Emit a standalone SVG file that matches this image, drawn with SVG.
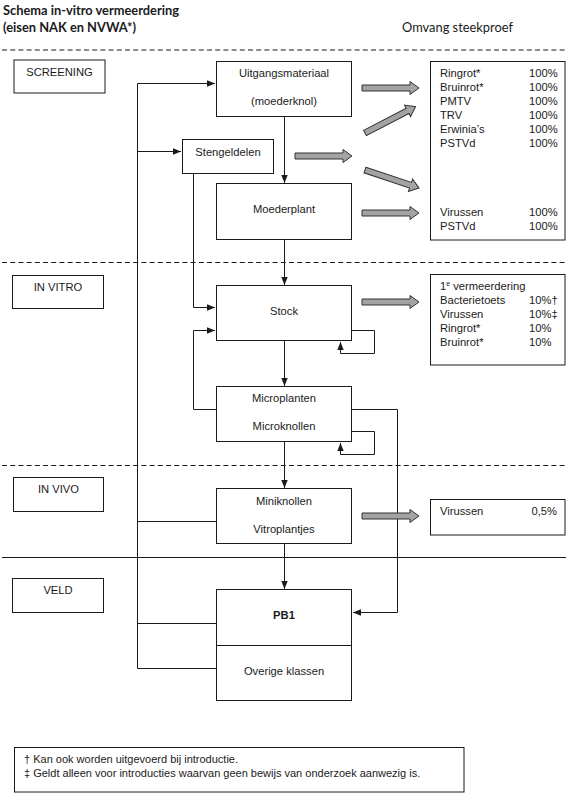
<svg xmlns="http://www.w3.org/2000/svg" width="568" height="796" viewBox="0 0 568 796">
<style>
  .bg{fill:#fff}
  .box{fill:#fff;stroke:#1a1a1a;stroke-width:1}
  .ln{fill:none;stroke:#1a1a1a;stroke-width:1}
  .dash{fill:none;stroke:#1a1a1a;stroke-width:1;stroke-dasharray:5 3.2}
  .t{font-family:"Liberation Sans",Arial,sans-serif;font-size:11.2px;fill:#1a1a1a}
  .c{text-anchor:middle}
  .b{font-weight:bold}
  .h{font-family:Lato,"Open Sans",sans-serif;font-size:13px;fill:#1a1a1a}
  .blk{fill:#a3a3a3;stroke:#333;stroke-width:1}
</style>
<defs>
  <marker id="ah" viewBox="0 0 8 8" refX="8" refY="4" markerWidth="8" markerHeight="8" markerUnits="userSpaceOnUse" orient="auto">
    <path d="M0,0.8 L8,4 L0,7.2 Z" fill="#1a1a1a"/>
  </marker>
  <path id="barrow" d="M0,-3 H48 V-6.5 L57,0 L48,6.5 V3 H0 Z"/>
</defs>
<rect class="bg" x="0" y="0" width="568" height="796"/>

<g id="header">
  <text class="h b" x="3" y="15" textLength="176" lengthAdjust="spacingAndGlyphs">Schema in-vitro vermeerdering</text>
  <text class="h b" x="3" y="32" textLength="133" lengthAdjust="spacingAndGlyphs">(eisen NAK en NVWA*)</text>
  <text class="h" x="402" y="32" textLength="111" lengthAdjust="spacingAndGlyphs">Omvang steekproef</text>
</g>

<g id="separators">
  <line class="dash" x1="2" y1="50" x2="566" y2="50"/>
  <line class="dash" x1="2" y1="262.5" x2="566" y2="262.5"/>
  <line class="dash" x1="2" y1="465.5" x2="566" y2="465.5"/>
  <line class="ln" x1="2" y1="557.5" x2="566" y2="557.5"/>
</g>

<g id="phase-screening">
  <rect class="box" x="14" y="60" width="91" height="33"/>
  <text class="t c" x="59.5" y="76">SCREENING</text>
</g>
<g id="phase-invitro">
  <rect class="box" x="12.5" y="275.5" width="91" height="33"/>
  <text class="t c" x="58" y="291">IN VITRO</text>
</g>
<g id="phase-invivo">
  <rect class="box" x="13.5" y="477.5" width="90" height="34"/>
  <text class="t c" x="58.5" y="493">IN VIVO</text>
</g>
<g id="phase-veld">
  <rect class="box" x="12.5" y="578.5" width="91" height="34"/>
  <text class="t c" x="58" y="594">VELD</text>
</g>

<g id="connectors">
  <!-- main feedback line on the left -->
  <polyline class="ln" points="216,668.5 137.5,668.5 137.5,83.5 215,83.5" marker-end="url(#ah)"/>
  <line class="ln" x1="137.5" y1="151.5" x2="181" y2="151.5" marker-end="url(#ah)"/>
  <line class="ln" x1="137.5" y1="521.5" x2="216" y2="521.5"/>
  <line class="ln" x1="137.5" y1="623.5" x2="216" y2="623.5"/>
  <!-- Stengeldelen to Stock -->
  <polyline class="ln" points="193.5,173 193.5,307.5 215,307.5" marker-end="url(#ah)"/>
  <!-- Microplanten back to Stock -->
  <polyline class="ln" points="216,409.5 193.5,409.5 193.5,330.5 215,330.5" marker-end="url(#ah)"/>
  <!-- vertical main flow -->
  <line class="ln" x1="284.5" y1="117" x2="284.5" y2="183" marker-end="url(#ah)"/>
  <line class="ln" x1="284.5" y1="240" x2="284.5" y2="285" marker-end="url(#ah)"/>
  <line class="ln" x1="284.5" y1="341" x2="284.5" y2="386" marker-end="url(#ah)"/>
  <line class="ln" x1="284.5" y1="442" x2="284.5" y2="488" marker-end="url(#ah)"/>
  <line class="ln" x1="284.5" y1="544" x2="284.5" y2="589" marker-end="url(#ah)"/>
  <!-- self loops -->
  <polyline class="ln" points="351,330.5 374.5,330.5 374.5,353.5 340.5,353.5 340.5,342" marker-end="url(#ah)"/>
  <polyline class="ln" points="351,431.5 374.5,431.5 374.5,454.5 340.5,454.5 340.5,443" marker-end="url(#ah)"/>
  <!-- Microplanten to PB1 -->
  <polyline class="ln" points="351,409.5 397.5,409.5 397.5,612.5 353,612.5" marker-end="url(#ah)"/>
</g>

<g id="block-arrows">
  <use href="#barrow" class="blk" transform="translate(362,88)"/>
  <use href="#barrow" class="blk" transform="translate(365,133) rotate(-27.5)"/>
  <use href="#barrow" class="blk" transform="translate(295,156)"/>
  <use href="#barrow" class="blk" transform="translate(365,170) rotate(18.5)"/>
  <use href="#barrow" class="blk" transform="translate(362,213)"/>
  <use href="#barrow" class="blk" transform="translate(362,302)"/>
  <use href="#barrow" class="blk" transform="translate(362,516)"/>
</g>

<g id="uitgangsmateriaal">
  <rect class="box" x="216.5" y="61.5" width="135" height="55"/>
  <text class="t c" x="284" y="77">Uitgangsmateriaal</text>
  <text class="t c" x="284" y="105">(moederknol)</text>
</g>
<g id="stengeldelen">
  <rect class="box" x="182.5" y="139.5" width="91" height="34"/>
  <text class="t c" x="228" y="156">Stengeldelen</text>
</g>
<g id="moederplant">
  <rect class="box" x="216.5" y="183.5" width="135" height="56"/>
  <text class="t c" x="284" y="213">Moederplant</text>
</g>
<g id="stock">
  <rect class="box" x="216.5" y="285.5" width="135" height="55"/>
  <text class="t c" x="284" y="315">Stock</text>
</g>
<g id="microplanten">
  <rect class="box" x="216.5" y="386.5" width="135" height="55"/>
  <text class="t c" x="284" y="402">Microplanten</text>
  <text class="t c" x="284" y="430">Microknollen</text>
</g>
<g id="miniknollen">
  <rect class="box" x="216.5" y="488.5" width="135" height="55"/>
  <text class="t c" x="284" y="505">Miniknollen</text>
  <text class="t c" x="284" y="533">Vitroplantjes</text>
</g>
<g id="pb1">
  <rect class="box" x="216.5" y="589.5" width="135" height="111"/>
  <line class="ln" x1="216.5" y1="645.5" x2="351.5" y2="645.5"/>
  <text class="t c b" x="284" y="619">PB1</text>
  <text class="t c" x="284" y="675">Overige klassen</text>
</g>

<g id="tests-screening">
  <rect class="box" x="430.5" y="61.5" width="134.5" height="178.5"/>
  <text class="t" x="440" y="77">Ringrot*</text><text class="t" x="529" y="77">100%</text>
  <text class="t" x="440" y="91">Bruinrot*</text><text class="t" x="529" y="91">100%</text>
  <text class="t" x="440" y="105">PMTV</text><text class="t" x="529" y="105">100%</text>
  <text class="t" x="440" y="119">TRV</text><text class="t" x="529" y="119">100%</text>
  <text class="t" x="440" y="133">Erwinia’s</text><text class="t" x="529" y="133">100%</text>
  <text class="t" x="440" y="147">PSTVd</text><text class="t" x="529" y="147">100%</text>
  <text class="t" x="440" y="216">Virussen</text><text class="t" x="529" y="216">100%</text>
  <text class="t" x="440" y="230">PSTVd</text><text class="t" x="529" y="230">100%</text>
</g>
<g id="tests-invitro">
  <rect class="box" x="430.5" y="274.5" width="134.5" height="90.5"/>
  <text class="t" x="440" y="290">1<tspan font-size="7" dy="-4">e</tspan><tspan dy="4"> vermeerdering</tspan></text>
  <text class="t" x="440" y="304">Bacterietoets</text><text class="t" x="529" y="304">10%†</text>
  <text class="t" x="440" y="318">Virussen</text><text class="t" x="529" y="318">10%‡</text>
  <text class="t" x="440" y="332">Ringrot*</text><text class="t" x="529" y="332">10%</text>
  <text class="t" x="440" y="346">Bruinrot*</text><text class="t" x="529" y="346">10%</text>
</g>
<g id="tests-invivo">
  <rect class="box" x="430.5" y="499.5" width="134.5" height="35.5"/>
  <text class="t" x="440" y="515">Virussen</text>
  <text class="t" x="557" y="515" text-anchor="end">0,5%</text>
</g>

<g id="footnotes">
  <rect class="box" x="14.5" y="747.5" width="449.5" height="44.5"/>
  <text class="t" x="24" y="763" style="font-size:11px">† Kan ook worden uitgevoerd bij introductie.</text>
  <text class="t" x="24" y="777" style="font-size:11px">‡ Geldt alleen voor introducties waarvan geen bewijs van onderzoek aanwezig is.</text>
</g>
</svg>
